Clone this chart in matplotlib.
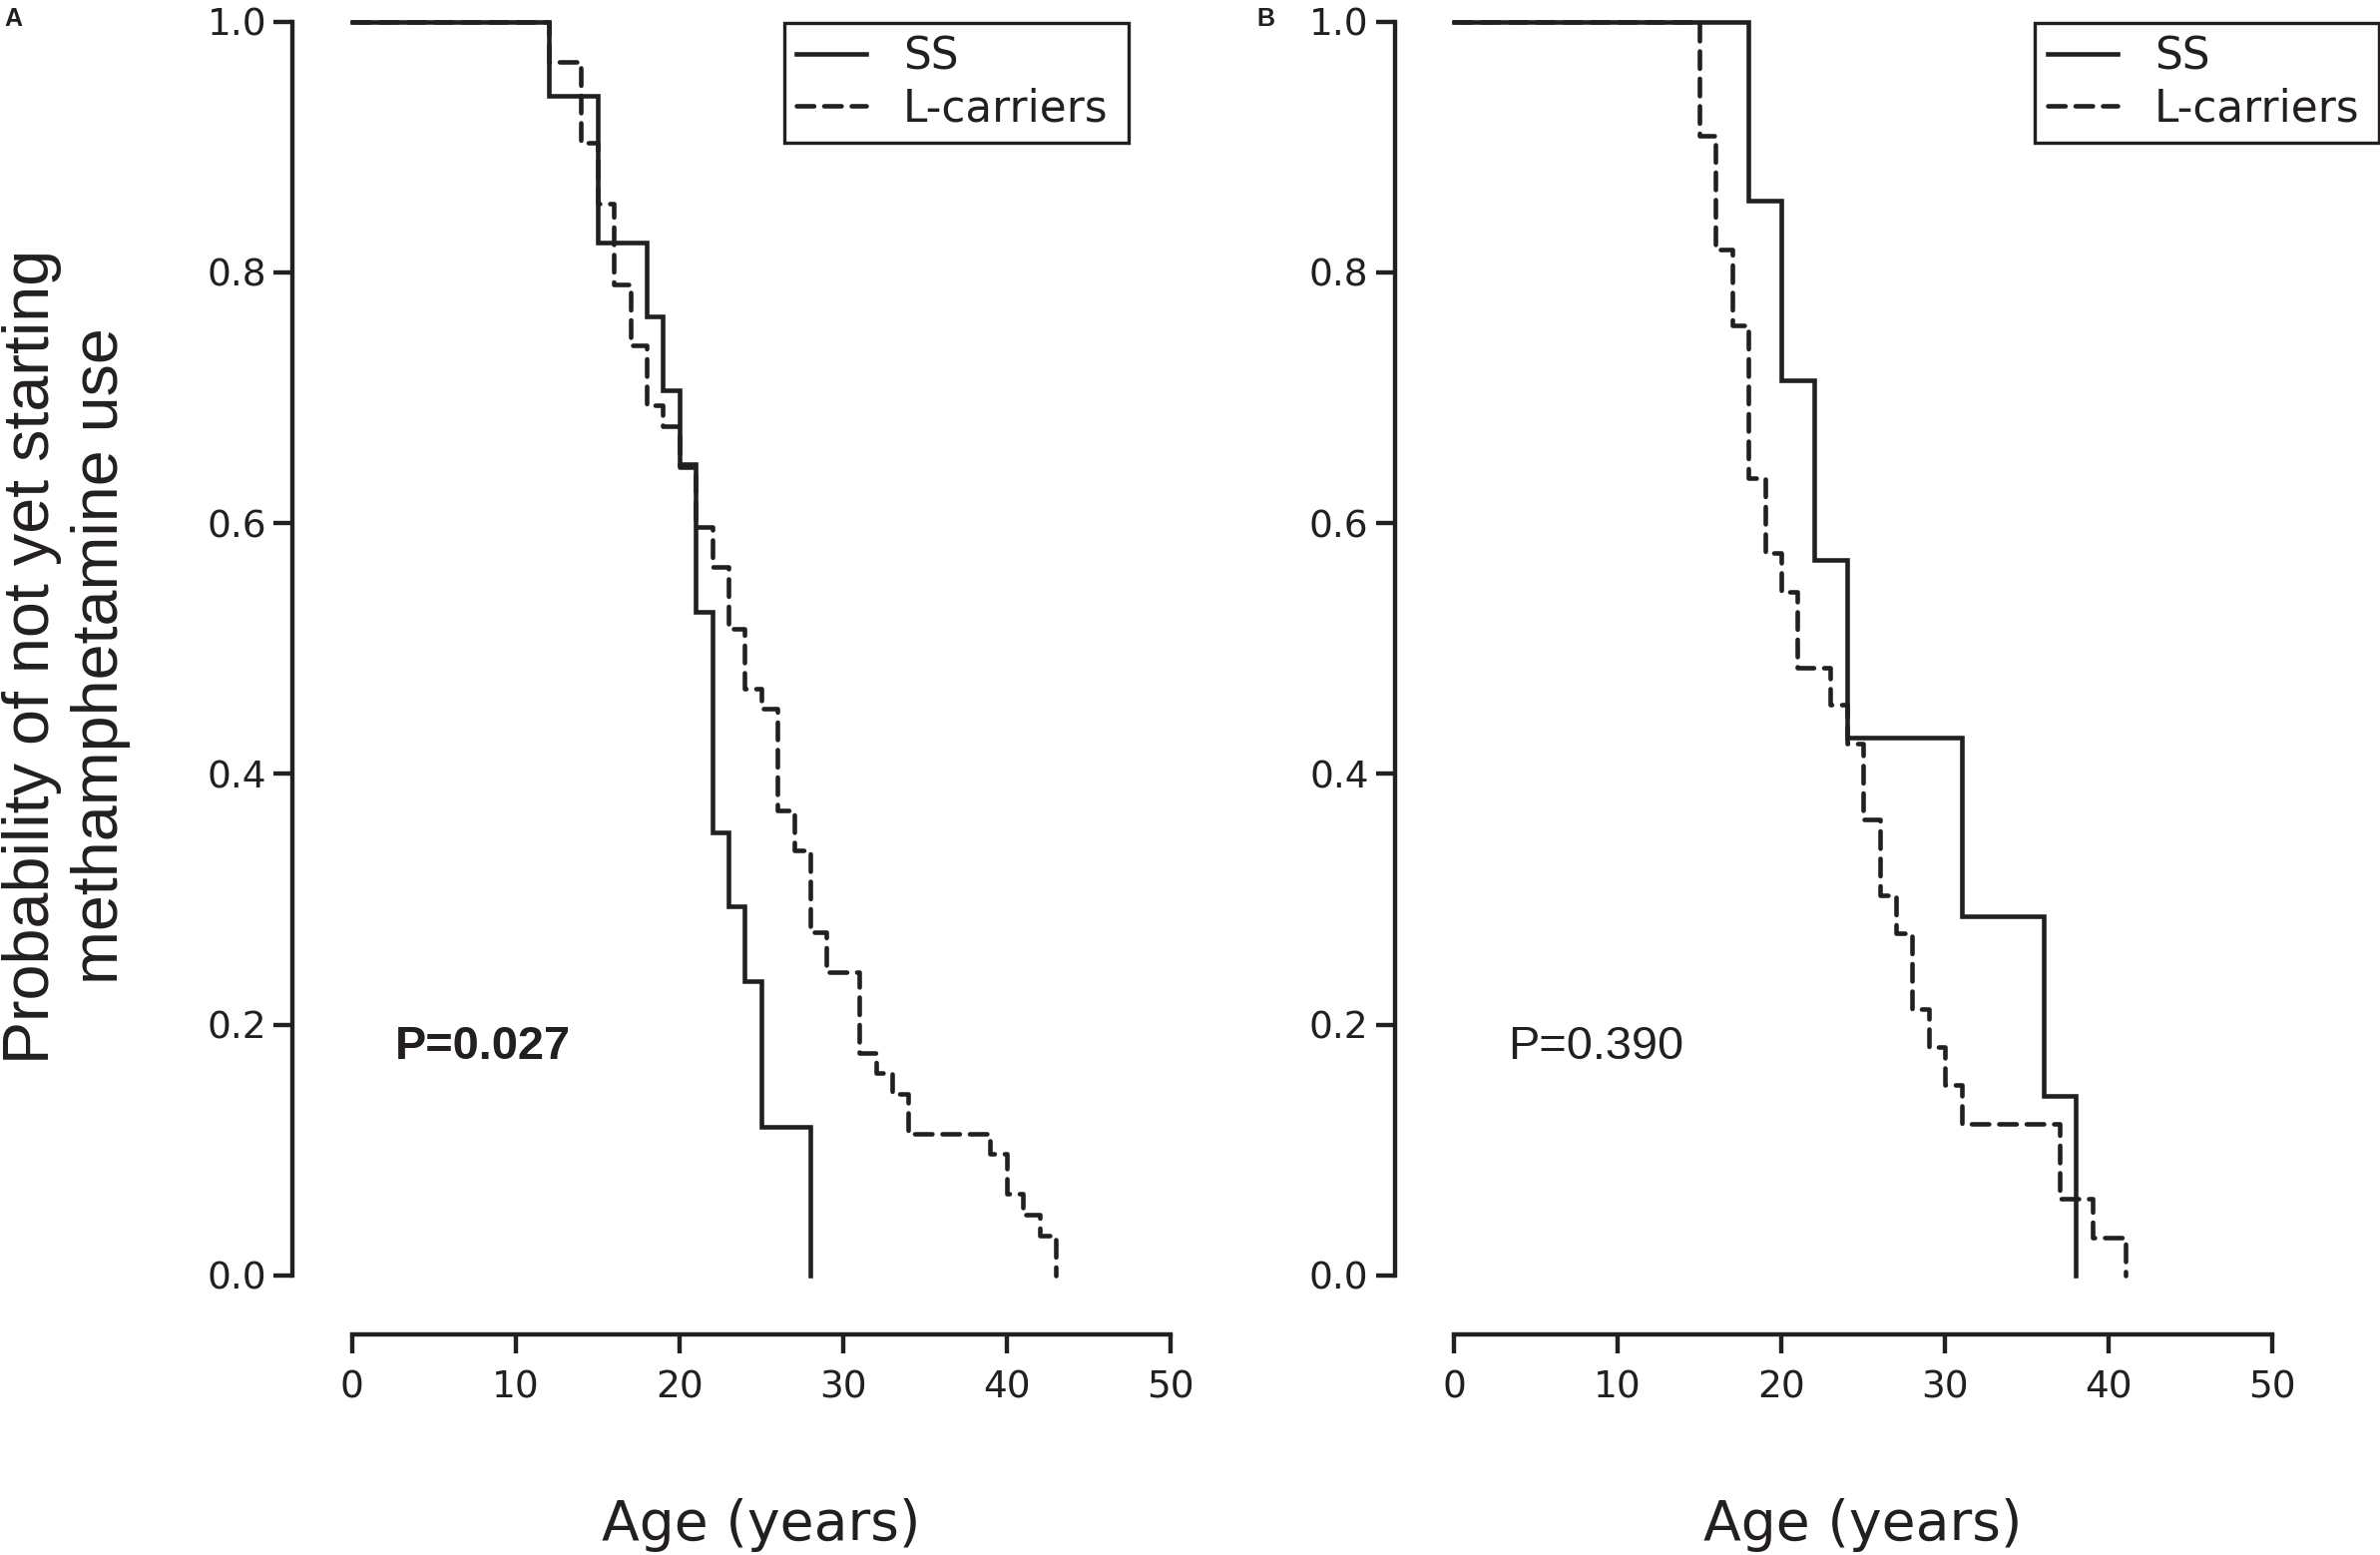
"""Kaplan-Meier curves: age at first methamphetamine use, SS vs L-carriers."""
import matplotlib
matplotlib.use("Agg")
import matplotlib.pyplot as plt
from matplotlib.ticker import FormatStrFormatter

INK = "#231f20"

# Panel A
AGE_A_SS = [0, 12, 15, 18, 19, 20, 21, 22, 23, 24, 25, 28]
SURV_A_SS = [1.0, 0.941, 0.824, 0.765, 0.706, 0.647, 0.529, 0.353, 0.294,
             0.235, 0.118, 0.0]
AGE_A_L = [0, 12, 14, 15, 16, 17, 18, 19, 20, 21, 22, 23, 24, 25, 26, 27, 28,
           29, 31, 32, 33, 34, 39, 40, 41, 42, 43]
SURV_A_L = [1.0, 0.968, 0.903, 0.855, 0.790, 0.742, 0.694, 0.677, 0.645,
            0.597, 0.565, 0.516, 0.468, 0.452, 0.371, 0.339, 0.274, 0.242,
            0.177, 0.161, 0.145, 0.113, 0.097, 0.065, 0.048, 0.032, 0.0]
P_A = "P=0.027"

# Panel B
AGE_B_SS = [0, 18, 20, 22, 24, 31, 36, 38]
SURV_B_SS = [1.0, 0.857, 0.714, 0.571, 0.429, 0.286, 0.143, 0.0]
AGE_B_L = [0, 15, 16, 17, 18, 19, 20, 21, 23, 24, 25, 26, 27, 28, 29, 30,
           31, 37, 39, 41]
SURV_B_L = [1.0, 0.909, 0.818, 0.758, 0.636, 0.576, 0.545, 0.485, 0.455,
            0.424, 0.364, 0.303, 0.273, 0.212, 0.182, 0.152, 0.121, 0.061,
            0.030, 0.0]
P_B = "P=0.390"

X_TICKS = [0, 10, 20, 30, 40, 50]
Y_TICKS = [0.0, 0.2, 0.4, 0.6, 0.8, 1.0]
SERIES_LABELS = ["SS", "L-carriers"]

plt.rcParams["font.family"] = ["DejaVu Sans"]

fig = plt.figure(figsize=(15.9, 10.3867), dpi=150)
ax_a = fig.add_axes([0.1479, 0.1799, 0.3439, 0.8062])
ax_b = fig.add_axes([0.6109, 0.1799, 0.3439, 0.8062])

LW = 2.2
DASH = (0, (3.8, 2.2))


def style_axes(ax):
    ax.set_xlim(0, 50)
    ax.set_ylim(0, 1)
    for side in ("top", "right"):
        ax.spines[side].set_visible(False)
    for side in ("left", "bottom"):
        ax.spines[side].set_position(("outward", 28.5))
        ax.spines[side].set_linewidth(2.1)
        ax.spines[side].set_color(INK)
    ax.set_xticks(X_TICKS)
    ax.set_yticks(Y_TICKS)
    ax.yaxis.set_major_formatter(FormatStrFormatter("%.1f"))
    ax.tick_params(axis="both", length=9, width=2.1, color=INK,
                   labelsize=18, labelcolor=INK)
    ax.tick_params(axis="x", pad=8)
    ax.tick_params(axis="y", pad=3.5)
    ax.patch.set_visible(False)


def draw_panel(ax, age_ss, surv_ss, age_l, surv_l, p_text, bold, leg_x):
    ax.step(age_ss, surv_ss, where="post", color=INK, lw=LW,
            solid_joinstyle="miter", clip_on=False, label=SERIES_LABELS[0],
            zorder=3)
    ax.step(age_l, surv_l, where="post", color=INK, lw=LW, linestyle=DASH,
            dash_capstyle="round", clip_on=False, label=SERIES_LABELS[1],
            zorder=2)
    style_axes(ax)
    ax.text(2.6 if bold else 3.3, 0.182, p_text, fontsize=22.5,
            family="Liberation Sans",
            fontweight="bold" if bold else "normal",
            color=INK, ha="left", va="center")
    # fixed-width box, like the original legend
    leg = ax.legend(loc="upper left", bbox_to_anchor=(leg_x, 0.0, 0.4206, 0.999),
                    mode="expand", fontsize=21, frameon=True, fancybox=False,
                    borderpad=0.28, labelspacing=0.22, handlelength=1.6,
                    handletextpad=0.85, borderaxespad=0.0)
    frame = leg.get_frame()
    frame.set_edgecolor(INK)
    frame.set_linewidth(1.6)
    frame.set_facecolor("white")
    frame.set_alpha(1.0)
    for txt in leg.get_texts():
        txt.set_color(INK)


draw_panel(ax_a, AGE_A_SS, SURV_A_SS, AGE_A_L, SURV_A_L, P_A, True, 0.528)
draw_panel(ax_b, AGE_B_SS, SURV_B_SS, AGE_B_L, SURV_B_L, P_B, False, 0.710)

# shared labels
fig.text(0.028, 0.578,
         "Probability of not yet starting\nmethamphetamine use",
         rotation=90, ha="center", va="center", multialignment="center",
         fontsize=31, family="Liberation Sans", color=INK, linespacing=1.2)
for ax in (ax_a, ax_b):
    pos = ax.get_position()
    fig.text((pos.x0 + pos.x1) / 2, 0.019, "Age (years)", ha="center",
             va="center", fontsize=26.5, color=INK)

fig.text(0.002, 0.988, "A", fontsize=12, fontweight="bold",
         family="Liberation Sans", color=INK, ha="left", va="center")
fig.text(0.528, 0.988, "B", fontsize=12, fontweight="bold",
         family="Liberation Sans", color=INK, ha="left", va="center")

fig.savefig("out.png", dpi=150)
